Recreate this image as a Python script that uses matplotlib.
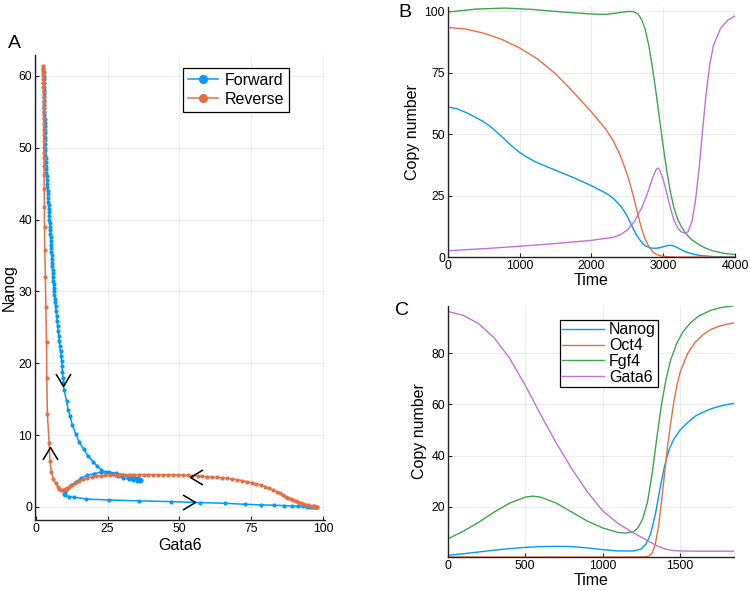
import matplotlib
matplotlib.use("Agg")
import matplotlib.pyplot as plt
from matplotlib.path import Path

plt.rcParams['font.family'] = ['Liberation Sans', 'DejaVu Sans']

BLUE = '#009AFA'
ORANGE = '#E36F47'
GREEN = '#3EA44E'
PURPLE = '#C371D2'

# ---------------- Panel A: phase-plane trajectories ----------------
fwd_gata6 = [2.65, 2.67, 2.70, 2.72, 2.75, 2.77, 2.80, 2.82, 2.85, 2.87, 2.90, 2.92, 2.95, 2.97,
             3.00, 3.02, 3.05, 3.07, 3.10, 3.12, 3.15, 3.17, 3.20, 3.27, 3.33, 3.40, 3.47, 3.53,
             3.60, 3.68, 3.77, 3.85, 3.93, 4.02, 4.10, 4.18, 4.25, 4.33, 4.40, 4.48, 4.55, 4.63,
             4.70, 4.78, 4.86, 4.94, 5.02, 5.10, 5.18, 5.26, 5.34, 5.42, 5.50, 5.58, 5.66, 5.74,
             5.82, 5.90, 5.98, 6.06, 6.14, 6.22, 6.30, 6.43, 6.57, 6.70, 6.83, 7.02, 7.21, 7.40,
             7.58, 7.78, 7.98, 8.18, 8.40, 8.60, 8.80, 8.95, 9.08, 9.25, 9.42, 9.60, 9.80,
             10.7, 11.2, 11.9, 12.7, 13.8, 15.0, 16.7, 18.1, 19.9, 21.3, 22.8, 24.5, 26.5, 28.5,
             30.5, 32.3, 33.9, 35.2, 36.1, 36.5, 36.3, 35.7, 34.8, 33.6,
             32.0, 30.1, 27.8, 25.3, 22.7, 20.2, 17.9, 15.7, 13.9, 12.3, 11.0, 10.1, 9.8,
             10.3, 11.5, 13.2, 17.6, 25.3, 36.0, 47.2, 57.3, 65.9, 72.9, 78.4, 82.9, 86.4,
             89.3, 91.4, 93.0, 94.5, 95.6, 96.3, 96.9, 97.3, 97.6, 97.8]
fwd_nanog = [61.0, 60.5, 60.0, 59.5, 59.0, 58.5, 58.0, 57.5, 57.0, 56.5, 56.0, 55.5, 55.0, 54.5,
             54.0, 53.5, 53.0, 52.5, 52.0, 51.5, 51.0, 50.5, 50.0, 49.5, 49.0, 48.5, 48.0, 47.5,
             47.0, 46.5, 46.0, 45.5, 45.0, 44.5, 44.0, 43.5, 43.0, 42.5, 42.0, 41.5, 41.0, 40.5,
             40.0, 39.5, 39.0, 38.5, 38.0, 37.5, 37.0, 36.5, 36.0, 35.5, 35.0, 34.5, 34.0, 33.5,
             33.0, 32.5, 32.0, 31.5, 31.0, 30.5, 30.0, 29.5, 29.0, 28.5, 28.0, 27.3, 26.6, 25.9,
             25.2, 24.5, 23.8, 23.1, 22.4, 21.7, 21.0, 20.3, 19.6, 18.8, 18.0, 17.2, 16.3,
             14.7, 13.5, 12.6, 11.4, 10.2, 9.1, 8.0, 7.1, 6.3, 5.7, 5.15, 4.8, 4.55, 4.3,
             4.05, 3.85, 3.72, 3.65, 3.62, 3.72, 3.88, 3.98, 4.05, 4.12,
             4.3, 4.5, 4.7, 4.82, 4.8, 4.65, 4.4, 4.0, 3.5, 3.0, 2.5, 2.05, 1.8,
             1.6, 1.45, 1.35, 1.1, 0.97, 0.84, 0.74, 0.6, 0.51, 0.37, 0.28, 0.24, 0.18,
             0.14, 0.10, 0.08, 0.05, 0.04, 0.03, 0.02, 0.01, 0.0, 0.0]

rev_gata6 = [97.9, 97.7, 97.5, 97.0, 96.4, 95.6, 94.7, 93.9, 93.0, 92.2, 91.4, 90.5, 89.5, 88.7,
             87.9, 87.0, 86.1, 84.9, 83.8, 82.6, 81.2, 79.8, 78.4, 76.8, 75.1, 73.4, 71.7, 69.9,
             68.2, 66.5, 64.8, 63.0, 61.4, 59.7, 58.0, 56.3, 54.5, 52.8, 51.1, 49.4, 47.7, 46.0,
             44.3, 42.6, 40.9, 39.2, 37.5, 35.8, 34.1, 32.4, 30.7, 29.0, 27.4, 25.8, 24.2, 22.6,
             21.0, 19.4, 17.9, 16.4, 15.0, 13.7, 12.5, 11.7, 11.0, 10.3, 9.6, 8.9, 8.2, 7.6,
             6.9, 6.0, 5.4, 4.9, 4.6, 4.0, 3.8, 3.7, 3.46, 3.3, 3.1, 3.0, 2.95, 2.9, 2.85, 2.8,
             2.8, 2.78, 2.76, 2.75, 2.74, 2.72, 2.71, 2.70, 2.69, 2.68, 2.67, 2.66, 2.66, 2.65,
             2.65, 2.65, 2.65, 2.65, 2.65, 2.65, 2.65]
rev_nanog = [0.0, 0.02, 0.04, 0.06, 0.10, 0.16, 0.24, 0.33, 0.45, 0.55, 0.68, 0.84, 0.97, 1.11,
             1.28, 1.44, 1.65, 1.9, 2.13, 2.37, 2.6, 2.83, 3.0, 3.2, 3.38, 3.52, 3.66, 3.8,
             3.9, 3.98, 4.05, 4.1, 4.15, 4.2, 4.25, 4.3, 4.35, 4.4, 4.42, 4.45, 4.46, 4.47,
             4.48, 4.49, 4.5, 4.5, 4.5, 4.5, 4.5, 4.5, 4.49, 4.48, 4.47, 4.45, 4.42, 4.37,
             4.3, 4.18, 4.02, 3.84, 3.62, 3.38, 3.05, 2.8, 2.6, 2.47, 2.4, 2.42, 2.55, 2.8,
             3.3, 3.94, 4.83, 6.36, 8.96, 12.95, 17.9, 23.0, 27.8, 32.0, 35.7, 38.95, 41.8, 44.2, 46.2, 47.5,
             48.5, 49.3, 50.1, 50.9, 51.7, 52.5, 53.3, 54.1, 54.9, 55.7, 56.4, 57.1, 57.8, 58.4,
             59.0, 59.6, 60.1, 60.5, 60.8, 61.1, 61.3]

# direction chevrons: tip position (gata6, nanog) and pointing direction
arrow_x = [9.4, 55.3, 53.6, 4.95]
arrow_y = [16.8, 0.7, 4.1, 8.3]
arrow_dir = ['down', 'right', 'left', 'up']

# ---------------- Panel B: forward time course ----------------
tB_nanog = [0, 125, 250, 375, 500, 625, 750, 875, 1000, 1125, 1250, 1500, 1750, 2000, 2200, 2300,
            2400, 2450, 2500, 2550, 2600, 2650, 2700, 2750, 2800, 2850, 2900, 2950, 3000, 3050,
            3100, 3150, 3200, 3250, 3300, 3400, 3500, 3700, 4000]
B_nanog = [61.0, 60.3, 58.8, 57.0, 55.0, 52.3, 49.0, 45.6, 42.5, 40.2, 38.3, 35.3, 32.3, 29.0,
           26.0, 24.0, 21.0, 19.0, 16.5, 13.5, 10.5, 8.0, 6.0, 4.6, 3.9, 3.6, 3.6, 3.8, 4.2, 4.6,
           4.8, 4.5, 3.8, 3.0, 2.3, 1.3, 0.7, 0.2, 0.0]
tB_oct4 = [0, 250, 500, 750, 1000, 1250, 1500, 1750, 2000, 2200, 2300, 2400, 2500, 2550, 2600,
           2650, 2700, 2750, 2800, 2850, 2900, 2950, 3000, 3100, 3200, 4000]
B_oct4 = [93.3, 92.7, 91.0, 88.5, 85.0, 80.5, 74.5, 67.0, 59.0, 52.0, 47.5, 41.5, 33.5, 28.5, 23.0,
          17.0, 11.5, 7.2, 4.2, 2.3, 1.2, 0.6, 0.3, 0.1, 0.0, 0.0]
tB_fgf4 = [0, 400, 800, 1200, 1600, 2000, 2200, 2350, 2500, 2580, 2650, 2700, 2750, 2800, 2850,
           2900, 2950, 3000, 3050, 3100, 3150, 3200, 3250, 3300, 3350, 3400, 3500, 3600, 3700,
           3850, 4000]
B_fgf4 = [99.6, 100.8, 101.2, 100.6, 99.6, 98.8, 98.6, 99.2, 99.8, 99.8, 98.8, 96.5, 92.5, 86.0, 77.0,
          67.0, 56.0, 45.0, 35.0, 26.5, 20.0, 15.5, 12.5, 10.2, 8.5, 7.0, 5.0, 3.5, 2.5,
          1.5, 1.0]
tB_gata6 = [0, 500, 1000, 1500, 2000, 2300, 2400, 2500, 2600, 2700, 2750, 2800, 2850, 2900, 2925,
            2950, 3000, 3050, 3100, 3150, 3200, 3250, 3300, 3325, 3350, 3400, 3450, 3500, 3550,
            3600, 3650, 3700, 3800, 3900, 4000]
B_gata6 = [2.6, 3.4, 4.4, 5.5, 6.8, 8.0, 9.0, 11.0, 14.5, 20.0, 23.5, 27.5, 32.0, 35.5, 36.2,
           35.5, 31.5, 26.0, 20.0, 15.0, 12.0, 10.3, 9.7, 9.8, 10.5, 14.5, 23.0, 36.0, 52.0,
           67.0, 78.5, 86.0, 93.0, 96.3, 98.0]

# ---------------- Panel C: reverse time course ----------------
tC_nanog = [0, 100, 200, 300, 400, 500, 600, 700, 800, 900, 1000, 1100, 1200, 1250, 1280, 1310,
            1340, 1370, 1400, 1430, 1460, 1500, 1550, 1600, 1650, 1700, 1750, 1800, 1845]
C_nanog = [1.1, 1.7, 2.4, 3.1, 3.7, 4.2, 4.5, 4.6, 4.5, 4.0, 3.3, 2.8, 2.8, 3.6, 5.5, 9.5,
           17.0, 27.0, 36.0, 42.5, 46.5, 50.0, 53.0, 55.5, 57.0, 58.3, 59.2, 59.9, 60.4]
tC_oct4 = [0, 500, 1000, 1200, 1280, 1300, 1320, 1340, 1360, 1380, 1400, 1420, 1440, 1460, 1480,
           1500, 1550, 1600, 1650, 1700, 1750, 1800, 1845]
C_oct4 = [0.4, 0.4, 0.4, 0.4, 0.5, 0.9, 2.0, 5.5, 12.0, 22.0, 33.0, 44.0, 53.0, 61.0, 67.5,
          72.5, 80.0, 84.5, 87.3, 89.3, 90.5, 91.3, 91.8]
tC_fgf4 = [0, 100, 200, 300, 400, 500, 550, 600, 700, 800, 900, 1000, 1100, 1150, 1200, 1230,
           1260, 1290, 1320, 1350, 1380, 1410, 1440, 1480, 1520, 1570, 1620, 1700, 1770, 1845]
C_fgf4 = [7.5, 10.5, 14.0, 18.0, 21.5, 23.8, 24.2, 23.8, 21.5, 18.0, 14.5, 11.8, 10.0, 9.8, 10.3, 12.0,
          15.5, 22.0, 33.0, 47.0, 60.0, 70.0, 77.5, 84.0, 88.5, 92.0, 94.5, 96.8, 97.9, 98.5]
tC_gata6 = [0, 100, 200, 300, 400, 500, 600, 700, 800, 900, 1000, 1100, 1200, 1300, 1350, 1400,
            1450, 1500, 1600, 1700, 1845]
C_gata6 = [96.3, 94.8, 91.5, 86.0, 78.0, 67.5, 56.0, 45.0, 35.0, 26.0, 18.5, 13.5, 9.8, 6.5, 4.8, 3.6,
           3.0, 2.8, 2.7, 2.7, 2.7]

# ---------------- Figure ----------------
fig = plt.figure(figsize=(7.5, 5.91), dpi=100)

axA = fig.add_axes([0.0467, 0.120, 0.386, 0.787])
axB = fig.add_axes([0.597, 0.565, 0.383, 0.423])
axC = fig.add_axes([0.597, 0.0575, 0.381, 0.425])


def style(ax):
    for s in ('top', 'right'):
        ax.spines[s].set_visible(False)
    for s in ('left', 'bottom'):
        ax.spines[s].set_color('#222222')
        ax.spines[s].set_linewidth(1.0)
    ax.grid(True, color='black', alpha=0.08, linewidth=0.7)
    ax.set_axisbelow(True)
    ax.tick_params(direction='in', length=3, width=0.8, labelsize=8.8, pad=2, colors='#222222',
                   labelcolor='black')


# Panel A
axA.plot(fwd_gata6, fwd_nanog, color=BLUE, lw=1.1, marker='o', ms=3.0, mew=0,
         label='Forward', zorder=3)
axA.plot(rev_gata6, rev_nanog, color=ORANGE, lw=1.1, marker='o', ms=3.0, mew=0,
         label='Reverse', zorder=3)
_codes = [Path.MOVETO, Path.LINETO, Path.LINETO]
chev = {
    'right': Path([(-1, 0.6), (0, 0), (-1, -0.6)], _codes),
    'left': Path([(1, 0.6), (0, 0), (1, -0.6)], _codes),
    'down': Path([(-0.6, 1), (0, 0), (0.6, 1)], _codes),
    'up': Path([(-0.6, -1), (0, 0), (0.6, -1)], _codes),
}
for x, y, d in zip(arrow_x, arrow_y, arrow_dir):
    axA.plot([x], [y], linestyle='none', marker=chev[d], ms=18, mfc='none', mec='black',
             mew=1.1, zorder=5)
axA.set_xlim(-0.3, 100.5)
axA.set_ylim(-1.83, 62.9)
axA.set_xticks([0, 25, 50, 75, 100])
axA.set_yticks([0, 10, 20, 30, 40, 50, 60])
axA.set_xlabel('Gata6', fontsize=11.5, labelpad=2)
axA.set_ylabel('Nanog', fontsize=11.5, labelpad=1)
style(axA)
legA = axA.legend(loc='upper right', bbox_to_anchor=(0.877, 0.972), fontsize=11.5,
                  frameon=True, fancybox=False, edgecolor='black', framealpha=1,
                  handlelength=1.9, handletextpad=0.4, borderpad=0.3, labelspacing=0.25,
                  markerscale=2.2, borderaxespad=0)
legA.get_frame().set_linewidth(0.9)

# Panel B
axB.plot(tB_nanog, B_nanog, color=BLUE, lw=1.0)
axB.plot(tB_oct4, B_oct4, color=ORANGE, lw=1.0)
axB.plot(tB_fgf4, B_fgf4, color=GREEN, lw=1.0)
axB.plot(tB_gata6, B_gata6, color=PURPLE, lw=1.0)
axB.set_xlim(0, 4000)
axB.set_ylim(0, 101.6)
axB.set_xticks([0, 1000, 2000, 3000, 4000])
axB.set_yticks([0, 25, 50, 75, 100])
axB.set_xlabel('Time', fontsize=11.5, labelpad=1)
axB.set_ylabel('Copy number', fontsize=11.5, labelpad=3)
style(axB)

# Panel C
axC.plot(tC_nanog, C_nanog, color=BLUE, lw=1.0, label='Nanog')
axC.plot(tC_oct4, C_oct4, color=ORANGE, lw=1.0, label='Oct4')
axC.plot(tC_fgf4, C_fgf4, color=GREEN, lw=1.0, label='Fgf4')
axC.plot(tC_gata6, C_gata6, color=PURPLE, lw=1.0, label='Gata6')
axC.set_xlim(0, 1845)
axC.set_ylim(0.43, 98.5)
axC.set_xticks([0, 500, 1000, 1500])
axC.set_yticks([20, 40, 60, 80])
axC.set_xlabel('Time', fontsize=11.5, labelpad=1)
axC.set_ylabel('Copy number', fontsize=11.5, labelpad=3)
style(axC)
legC = axC.legend(loc='upper right', bbox_to_anchor=(0.736, 0.944), fontsize=11.5,
                  frameon=True, fancybox=False, edgecolor='black', framealpha=1,
                  handlelength=2.6, handletextpad=0.3, borderpad=0.15, labelspacing=0.05,
                  borderaxespad=0)
legC.get_frame().set_linewidth(0.9)

# Panel letters
fig.text(0.011, 1 - 48 / 591, 'A', fontsize=14, ha='left', va='baseline')
fig.text(0.531, 1 - 17 / 591, 'B', fontsize=14, ha='left', va='baseline')
fig.text(0.527, 1 - 315 / 591, 'C', fontsize=14, ha='left', va='baseline')

fig.savefig('out.png', dpi=100)
